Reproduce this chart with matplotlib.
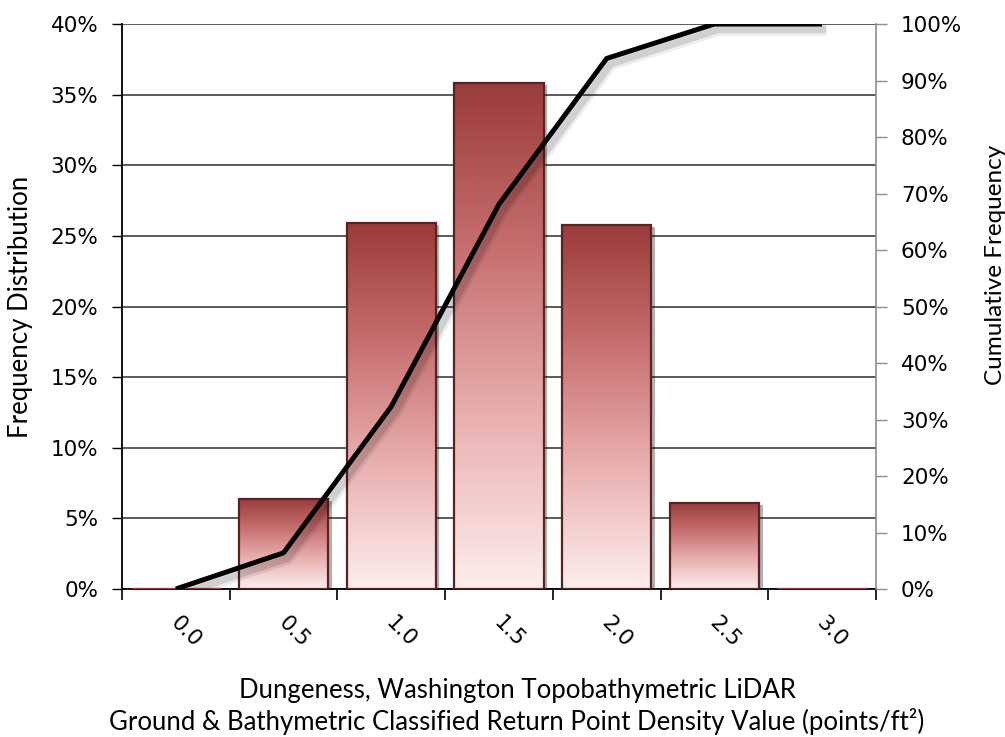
import numpy as np
import matplotlib
matplotlib.use("Agg")
import matplotlib.pyplot as plt
import matplotlib.patheffects as pe
from matplotlib.colors import LinearSegmentedColormap
from matplotlib.ticker import FixedLocator, PercentFormatter
import matplotlib.transforms as mtransforms

# ---- data ----
categories = ["0.0", "0.5", "1.0", "1.5", "2.0", "2.5", "3.0"]
frequency = [0.0, 6.4, 25.9, 35.8, 25.8, 6.1, 0.0]          # % (left axis)
cumulative = [0.0, 6.4, 32.3, 68.1, 93.9, 100.0, 100.0]      # % (right axis)

fig = plt.figure(figsize=(10.05, 7.37), dpi=100)
ax = fig.add_axes([0.1214, 0.2008, 0.7502, 0.7666])

x = np.arange(len(categories))
width = 0.83

ax.set_xlim(-0.5, len(categories) - 0.5)
ax.set_ylim(0, 40)

# gridlines
ax.set_yticks(np.arange(0, 41, 5))
ax.yaxis.grid(True, color="#2E2E2E", linewidth=1.1, zorder=0)
ax.set_axisbelow(True)

# bar shadows + white base
base = ax.bar(x, frequency, width=width, color="white", edgecolor="none", zorder=2)
for r in base:
    if r.get_height() > 0:
        r.set_path_effects([pe.SimplePatchShadow(offset=(2.5, -1.5), shadow_rgbFace="black", alpha=0.3),
                            pe.Normal()])

cmap = LinearSegmentedColormap.from_list(
    "rd", [(0.0, "#FDEEEE"), (0.35, "#E8AEAE"), (0.7, "#C36A6A"), (1.0, "#9B3B3B")])
grad = np.linspace(0, 1, 256).reshape(-1, 1)
for r in base:
    h = r.get_height()
    if h <= 0:
        continue
    x0 = r.get_x()
    im = ax.imshow(grad, extent=[x0, x0 + r.get_width(), 0, h], origin="lower",
                   aspect="auto", cmap=cmap, zorder=2.1, interpolation="bicubic")
    im.set_clip_path(r)

edge_cols = ["#A03C3C" if v == 0 else "#5A2222" for v in frequency]
edge_w = [2.4 if v == 0 else 1.6 for v in frequency]
ax.bar(x, frequency, width=width, color="none", edgecolor=edge_cols, linewidth=edge_w, zorder=3)
ax.set_xlim(-0.5, len(categories) - 0.5)
ax.set_ylim(0, 40)

# axes styling
for s in ["top", "right"]:
    ax.spines[s].set_visible(False)
ax.spines["left"].set_color("black")
ax.spines["left"].set_linewidth(1.3)
ax.spines["bottom"].set_color("black")
ax.spines["bottom"].set_linewidth(1.3)

ax.yaxis.set_major_formatter(PercentFormatter(decimals=0))
ax.tick_params(axis="y", direction="out", length=7, width=1, color="black",
               labelsize=15.5, pad=10)

ax.set_xticks(x)
ax.set_xticklabels(categories, rotation=-45, fontsize=15.5, ha="center", va="top")
ax.xaxis.set_minor_locator(FixedLocator(np.arange(-0.5, len(categories), 1.0)))
ax.tick_params(axis="x", which="major", length=0, pad=17)
ax.tick_params(axis="x", which="minor", length=8, width=1.2, color="black", direction="out")
offset = mtransforms.ScaledTranslation(10 / 100, 0, fig.dpi_scale_trans)
for lbl in ax.get_xticklabels():
    lbl.set_transform(lbl.get_transform() + offset)

ax.set_ylabel("Frequency Distribution", fontsize=18.5, family="Lato")
ax.yaxis.set_label_coords(-0.118, 0.5)
ax.set_xlabel("Dungeness, Washington Topobathymetric LiDAR\n"
              "Ground & Bathymetric Classified Return Point Density Value (points/ft²)",
              fontsize=18.5, family="Lato", linespacing=1.25)
ax.xaxis.set_label_coords(0.524, -0.157)

# cumulative line
ax2 = ax.twinx()
ax2.set_ylim(0, 100)
ax2.set_yticks(np.arange(0, 101, 10))
ax2.yaxis.set_major_formatter(PercentFormatter(decimals=0))
for s in ["top", "left", "bottom"]:
    ax2.spines[s].set_visible(False)
ax2.spines["right"].set_color("#8C8C8C")
ax2.spines["right"].set_linewidth(1.2)
ax2.tick_params(axis="y", direction="out", length=8, width=1, color="#8C8C8C",
                labelsize=15.5, pad=10)
ax2.plot(x, cumulative, color="black", linewidth=3.6, solid_joinstyle="round",
         solid_capstyle="butt", zorder=5,
         path_effects=[pe.SimpleLineShadow(offset=(3, -4), shadow_color="black", alpha=0.07, linewidth=9),
                       pe.SimpleLineShadow(offset=(3, -4), shadow_color="black", alpha=0.12, linewidth=5),
                       pe.Normal()])
ax2.set_ylabel("Cumulative Frequency", fontsize=17.5, family="Lato")
ax2.yaxis.set_label_coords(1.144, 0.573)

fig.savefig("out.png", dpi=100)
